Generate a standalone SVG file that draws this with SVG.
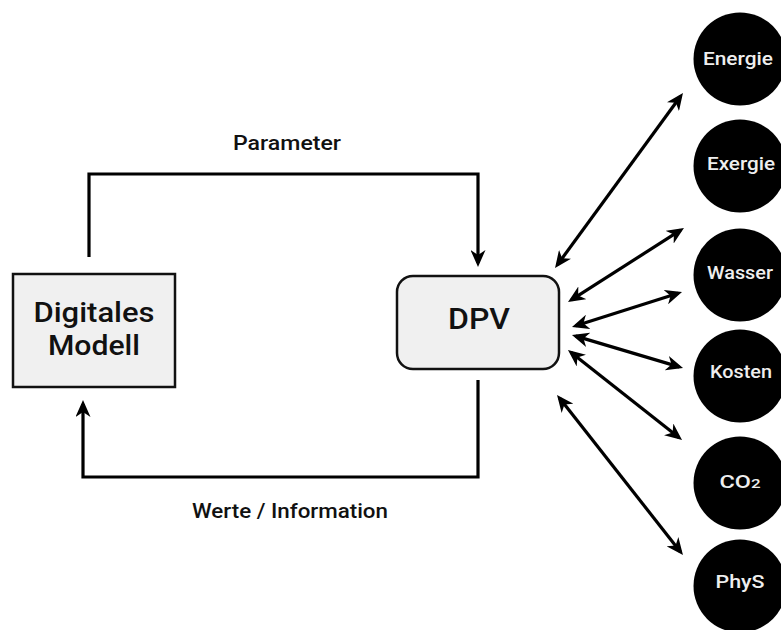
<svg xmlns="http://www.w3.org/2000/svg" width="781" height="630" viewBox="0 0 781 630">
<style>
.box{fill:#f0f0f0;stroke:#111;stroke-width:2.5}
.t{font-family:Roboto,"Liberation Sans",Arial,sans-serif;font-weight:500;fill:#111;text-anchor:middle}
.c{fill:#000}
.ct{font-family:Roboto,"Liberation Sans",Arial,sans-serif;font-weight:500;fill:#eee;font-size:18px;text-anchor:middle}
.ln{fill:none;stroke:#000;stroke-width:3.2}
</style>
<defs>
<marker id="ah" viewBox="0 0 17 15" markerUnits="userSpaceOnUse" markerWidth="17" markerHeight="15" refX="13" refY="7.5" orient="auto-start-reverse">
<path d="M0,0 L17,7.5 L0,15 L5,7.5 Z" fill="#000"/>
</marker>
</defs>
<g id="digitales-modell">
<rect class="box" x="13" y="274" width="162" height="113"/>
<text class="t" x="94" y="322" font-size="27" textLength="121" lengthAdjust="spacingAndGlyphs">Digitales</text>
<text class="t" x="94" y="355" font-size="27" textLength="92" lengthAdjust="spacingAndGlyphs">Modell</text>
</g>
<g id="dpv">
<rect class="box" x="397" y="276" width="162" height="93" rx="16" ry="16"/>
<text class="t" x="479" y="329" font-size="29.5" textLength="62" lengthAdjust="spacingAndGlyphs">DPV</text>
</g>
<g id="energie"><circle class="c" cx="740" cy="59" r="46.5"/><text class="ct" x="738" y="65" textLength="70" lengthAdjust="spacingAndGlyphs">Energie</text></g>
<g id="exergie"><circle class="c" cx="740" cy="166" r="46.5"/><text class="ct" x="741" y="170" textLength="68" lengthAdjust="spacingAndGlyphs">Exergie</text></g>
<g id="wasser"><circle class="c" cx="740" cy="275" r="46.5"/><text class="ct" x="740" y="279" textLength="66" lengthAdjust="spacingAndGlyphs">Wasser</text></g>
<g id="kosten"><circle class="c" cx="740" cy="376" r="46.5"/><text class="ct" x="741" y="378" textLength="62" lengthAdjust="spacingAndGlyphs">Kosten</text></g>
<g id="co2"><circle class="c" cx="740" cy="483" r="46.5"/><text class="ct" x="740" y="488" textLength="41" lengthAdjust="spacingAndGlyphs">CO<tspan font-size="13">2</tspan></text></g>
<g id="phys"><circle class="c" cx="740" cy="586" r="46.5"/><text class="ct" x="740" y="588" textLength="49" lengthAdjust="spacingAndGlyphs">PhyS</text></g>
<g id="connectors">
<path class="ln" d="M89,257 V174 H478 V263" marker-end="url(#ah)"/>
<path class="ln" d="M478,380 V477 H83 V404" marker-end="url(#ah)"/>
<line class="ln" x1="557.4" y1="264.8" x2="680.6" y2="96.2" marker-start="url(#ah)" marker-end="url(#ah)"/>
<line class="ln" x1="571.4" y1="299.8" x2="680.6" y2="230.2" marker-start="url(#ah)" marker-end="url(#ah)"/>
<line class="ln" x1="575.8" y1="325.8" x2="678.2" y2="293.2" marker-start="url(#ah)" marker-end="url(#ah)"/>
<line class="ln" x1="575.8" y1="336.1" x2="679.2" y2="366.9" marker-start="url(#ah)" marker-end="url(#ah)"/>
<line class="ln" x1="571.1" y1="352.5" x2="678.9" y2="437.5" marker-start="url(#ah)" marker-end="url(#ah)"/>
<line class="ln" x1="559.5" y1="398.1" x2="680.5" y2="551.9" marker-start="url(#ah)" marker-end="url(#ah)"/>
<text class="t" x="287" y="150" font-size="19.5" textLength="108" lengthAdjust="spacingAndGlyphs">Parameter</text>
<text class="t" x="290" y="518" font-size="21" textLength="196" lengthAdjust="spacingAndGlyphs">Werte / Information</text>
</g>
</svg>
